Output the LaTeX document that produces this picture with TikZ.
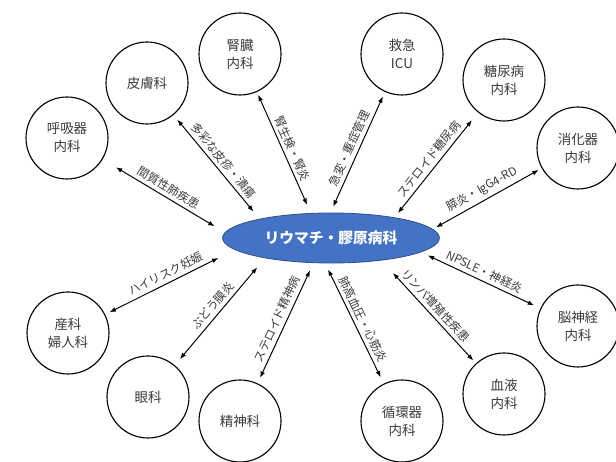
\documentclass[tikz,border=0pt]{standalone}
\usepackage{fontspec}
\setmainfont{Noto Sans CJK JP}
\usetikzlibrary{arrows.meta}
\usetikzlibrary{shapes.geometric}

\definecolor{hubblue}{HTML}{4472C4}
\definecolor{hubedge}{HTML}{2F528F}
\definecolor{inktext}{HTML}{3A3A3A}

\tikzset{
  dept/.style={circle,draw=black,line width=0.8pt,minimum size=2.05cm,inner sep=0pt,align=center,text=inktext,font=\fontsize{9.6}{12.8}\selectfont},
  link/.style={{Latex[length=4.5pt,width=3.4pt]}-{Latex[length=4.5pt,width=3.4pt]},line width=0.7pt,black},
  tag/.style={sloped,above=0.5pt,inner sep=2pt,text=inktext,font=\fontsize{8.3}{10}\selectfont},
}

\begin{document}
\begin{tikzpicture}
\useasboundingbox (0,0) rectangle (15.4,11.55);

% hub
\node[ellipse,fill=hubblue,draw=hubedge,line width=0.6pt,minimum width=5.42cm,minimum height=1.25cm,text=white,font=\fontsize{10.5}{12}\selectfont\bfseries] (hub) at (8.275,5.6) {リウマチ・膠原病科};

% departments
\node[dept] (resp) at (1.675,8.1) {呼吸器\\内科};
\node[dept] (skin) at (3.675,9.475) {皮膚科};
\node[dept] (kidney) at (6.0,10.2) {腎臓\\内科};
\node[dept] (icu) at (10.05,10.2) {救急\\ICU};
\node[dept] (dm) at (12.6,9.55) {糖尿病\\内科};
\node[dept] (gi) at (14.45,7.85) {消化器\\内科};
\node[dept] (neuro) at (14.45,3.4) {脳神経\\内科};
\node[dept] (hema) at (12.6,1.7) {血液\\内科};
\node[dept] (cardio) at (10.05,1.025) {循環器\\内科};
\node[dept] (psych) at (6.0,1.025) {精神科};
\node[dept] (eye) at (3.7,1.625) {眼科};
\node[dept] (obgyn) at (1.7,3.225) {産科\\婦人科};

% links
\draw[link,shorten <=11pt,shorten >=8.5pt] (resp) -- node[tag] {間質性肺疾患} (hub.177);
\draw[link,shorten <=4.3pt,shorten >=6.7pt] (skin) -- node[tag] {多彩な皮疹・潰瘍} (hub.165.4);
\draw[link,shorten <=2.1pt,shorten >=6.4pt] (kidney) -- node[tag] {腎生検・腎炎} (hub.129.5);
\draw[link,shorten <=3.5pt,shorten >=4.6pt] (icu) -- node[tag] {急変・重症管理} (hub.91.6);
\draw[link,shorten <=7pt,shorten >=3.9pt] (dm) -- node[tag] {ステロイド糖尿病} (hub.18.9);
\draw[link,shorten <=2.5pt,shorten >=2.6pt] (gi) -- node[tag] {膵炎・IgG4-RD} (hub.5.2);
\draw[link,shorten <=5pt,shorten >=5.3pt] (neuro) -- node[tag] {NPSLE・神経炎} (hub.-9.7);
\draw[link,shorten <=2.8pt,shorten >=12pt] (hema) -- node[tag] {リンパ増殖性疾患} (hub.-24.3);
\draw[link,shorten <=5pt,shorten >=4.8pt] (cardio) -- node[tag] {肺高血圧・心筋炎} (hub.-103.3);
\draw[link,shorten <=4.3pt,shorten >=5.7pt] (psych) -- node[tag] {ステロイド精神病} (hub.-125.5);
\draw[link,shorten <=5.7pt,shorten >=8.5pt] (eye) -- node[tag] {ぶどう膜炎} (hub.-163.4);
\draw[link,shorten <=3.5pt,shorten >=13pt] (obgyn) -- node[tag] {ハイリスク妊娠} (hub.-173.9);

\end{tikzpicture}
\end{document}
